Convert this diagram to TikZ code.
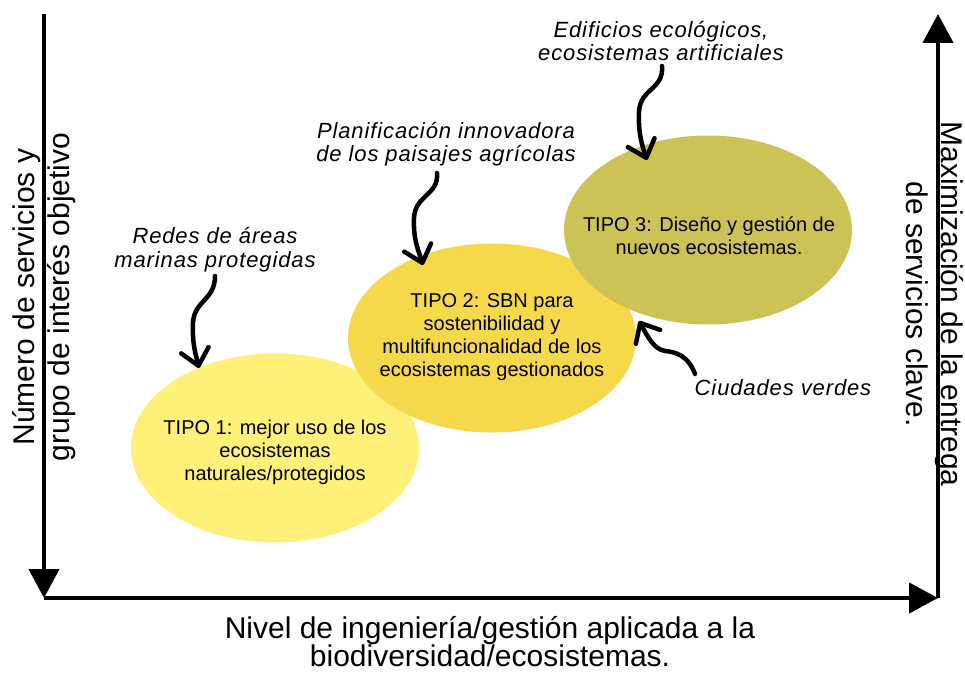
\documentclass[tikz,border=0pt]{standalone}
\usepackage{fontspec}
\setmainfont{Liberation Sans}
\newfontfamily\hand[LetterSpace=4]{Liberation Sans}
\usetikzlibrary{arrows.meta,shapes.geometric}
\definecolor{eA}{HTML}{FFF07A}
\definecolor{eB}{HTML}{F5D94A}
\definecolor{eC}{HTML}{CCC256}
\begin{document}
\begin{tikzpicture}[x=1pt,y=-1pt,
 axis/.style={line width=4.5pt, -{Triangle[length=29pt,width=30pt]}},
 blob/.style={ellipse, minimum width=288pt, minimum height=189pt, inner sep=0pt},
 tipo/.style={align=center, font=\fontsize{20}{23}\selectfont},
 note/.style={align=center, font=\hand\itshape\fontsize{22}{23}\selectfont},
 wavy/.style={line width=4.5pt, line cap=round, line join=round, -{Straight Barb[round,length=16pt,width=28pt]}},
 axlabel/.style={align=center, font=\fontsize{30}{35}\selectfont}]
\useasboundingbox[fill=white] (0,0) rectangle (965,674);

% ellipses
\node[blob, fill=eA] (e1) at (275,448) {};
\node[blob, fill=eB] (e2) at (492,338) {};
\node[blob, fill=eC] (e3) at (708,230) {};
\node[tipo] (t1) at (275,452) {TIPO 1: mejor uso de los\\ecosistemas\\naturales/protegidos};
\node[tipo] (t2) at (492,337) {TIPO 2: SBN para\\sostenibilidad y\\multifuncionalidad de los\\ecosistemas gestionados};
\node[tipo] (t3) at (709,236) {TIPO 3: Diseño y gestión de\\nuevos ecosistemas.};

% axes
\coordinate (yt) at (44,14);
\coordinate (o) at (44,598);
\coordinate (xr) at (938,598);
\coordinate (rt) at (938,14);
\draw[axis] (yt) -- (o);
\draw[axis] (o) -- (xr);
\draw[axis] (xr) -- (rt);

% axis labels
\node[axlabel, rotate=90] (ly) at (44,297) {Número de servicios y\\grupo de interés objetivo};
\node[axlabel, rotate=-90] (ry) at (935,304) {Maximización de la entrega\\de servicios clave.};
\node[axlabel, font=\fontsize{30}{28}\selectfont] (lx) at (490,642) {Nivel de ingeniería/gestión aplicada a la\\biodiversidad/ecosistemas.};

% notes
\node[note, font=\hand\itshape\fontsize{22}{24}\selectfont] (n1) at (215,250) {Redes de áreas\\marinas protegidas};
\node[note] (n2) at (446,144) {Planificación innovadora\\de los paisajes agrícolas};
\node[note] (n3) at (661,41) {Edificios ecológicos,\\ecosistemas artificiales};
\node[note] (n4) at (783,388) {Ciudades verdes};

% wavy arrows
\coordinate (s1) at (215,276); \coordinate (m1) at (193,322); \coordinate (p1) at (199,368);
\draw[wavy] (s1) .. controls (215,300) and (195,300) .. (m1) .. controls (192,345) and (196,355) .. (p1);
\coordinate (s2) at (437,173); \coordinate (m2) at (414,218); \coordinate (p2) at (423,265);
\draw[wavy] (s2) .. controls (439,195) and (415,195) .. (m2) .. controls (413,240) and (419,252) .. (p2);
\coordinate (s3) at (662,66); \coordinate (m3) at (639,112); \coordinate (p3) at (647,160);
\draw[wavy] (s3) .. controls (664,90) and (640,88) .. (m3) .. controls (638,135) and (643,148) .. (p3);
\coordinate (s4) at (695,374); \coordinate (m4) at (665,351); \coordinate (p4) at (639,321);
\draw[wavy] (s4) .. controls (688,355) and (675,352) .. (m4) .. controls (653,349) and (647,335) .. (p4);
\end{tikzpicture}
\end{document}
